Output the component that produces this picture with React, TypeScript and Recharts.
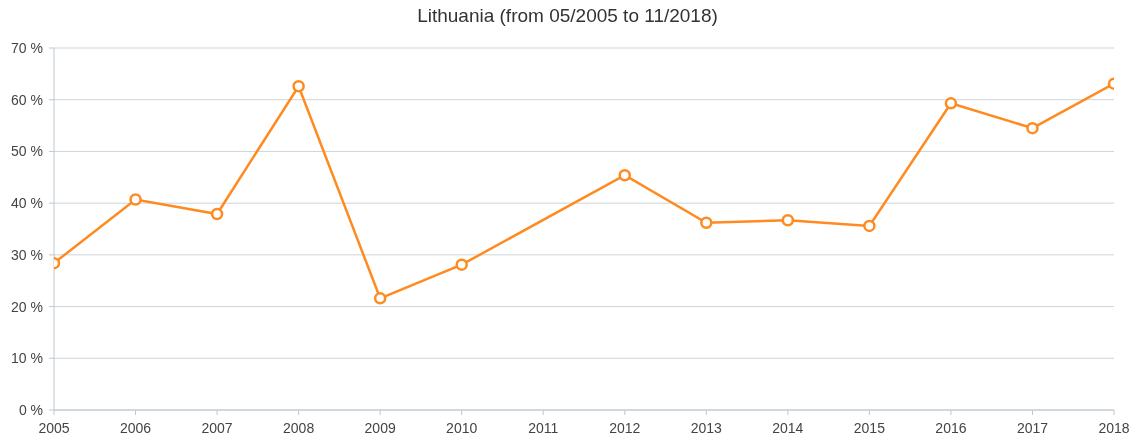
import { LineChart, Line, XAxis, YAxis, CartesianGrid } from 'recharts'

const years = [2005, 2006, 2007, 2008, 2009, 2010, 2012, 2013, 2014, 2015, 2016, 2017, 2018]
const shares = [28.4, 40.7, 37.9, 62.6, 21.6, 28.1, 45.4, 36.2, 36.7, 35.6, 59.3, 54.5, 63.1]
const xTicks = [2005, 2006, 2007, 2008, 2009, 2010, 2011, 2012, 2013, 2014, 2015, 2016, 2017, 2018]
const yTicks = [0, 10, 20, 30, 40, 50, 60, 70]

const data = years.map((year, i) => ({ year, share: shares[i] }))

const axisColor = '#bcc8cf'
const tickStyle = { fontSize: 14, fill: '#444' }

export default function App() {
  return (
    <div
      style={{
        position: 'fixed',
        top: 0,
        left: 0,
        width: 1135,
        height: 439,
        overflow: 'hidden',
        fontFamily: '"Liberation Sans", Arial, sans-serif',
      }}
    >
      <div
        style={{
          position: 'absolute',
          top: 5,
          left: 0,
          width: 1135,
          textAlign: 'center',
          fontSize: 19,
          color: '#333',
        }}
      >
        Lithuania (from 05/2005 to 11/2018)
      </div>
      <LineChart width={1135} height={439} data={data} margin={{ top: 48, right: 21, bottom: 0, left: 0 }}>
        <CartesianGrid vertical={false} stroke="#cbd5db" />
        <XAxis
          dataKey="year"
          type="number"
          domain={[2005, 2018]}
          ticks={xTicks}
          allowDataOverflow
          height={29}
          stroke={axisColor}
          tick={tickStyle}
          tickSize={5}
          tickMargin={8}
        />
        <YAxis
          domain={[0, 70]}
          ticks={yTicks}
          width={54}
          stroke={axisColor}
          tick={tickStyle}
          tickSize={5}
          tickMargin={6}
          tickFormatter={(v: number) => `${v} %`}
        />
        <Line
          dataKey="share"
          stroke="#ff8a1f"
          strokeWidth={2.5}
          dot={{ r: 5, fill: '#fff', stroke: '#ff8a1f', strokeWidth: 2.5 }}
          isAnimationActive={false}
        />
      </LineChart>
    </div>
  )
}
